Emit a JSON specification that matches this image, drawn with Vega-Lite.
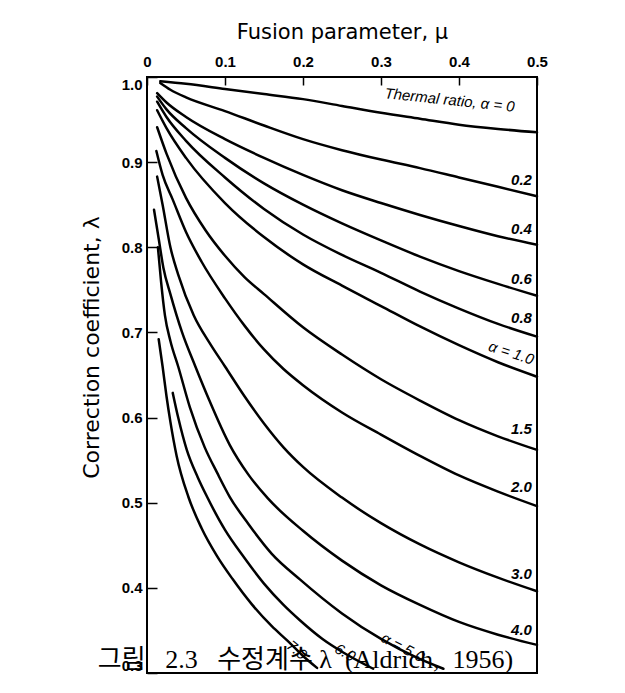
{
  "$schema": "https://vega.github.io/schema/vega-lite/v6.json",
  "width": 390,
  "height": 596,
  "autosize": {"type": "none"},
  "padding": {"left": 147, "top": 77, "right": 88, "bottom": 20},
  "background": "white",
  "config": {
    "view": {"stroke": "black", "strokeWidth": 2},
    "font": "Liberation Sans"
  },
  "datasets": {
    "curves": [
      {"a": "0", "m": 0.017, "l": 0.995}, {"a": "0", "m": 0.05, "l": 0.992}, {"a": "0", "m": 0.1, "l": 0.986}, {"a": "0", "m": 0.15, "l": 0.98}, {"a": "0", "m": 0.2, "l": 0.974}, {"a": "0", "m": 0.25, "l": 0.966}, {"a": "0", "m": 0.3, "l": 0.958}, {"a": "0", "m": 0.35, "l": 0.951}, {"a": "0", "m": 0.4, "l": 0.944}, {"a": "0", "m": 0.45, "l": 0.939}, {"a": "0", "m": 0.5, "l": 0.935},
      {"a": "0.2", "m": 0.017, "l": 0.993}, {"a": "0.2", "m": 0.03, "l": 0.985}, {"a": "0.2", "m": 0.05, "l": 0.976}, {"a": "0.2", "m": 0.1, "l": 0.96}, {"a": "0.2", "m": 0.15, "l": 0.943}, {"a": "0.2", "m": 0.2, "l": 0.927}, {"a": "0.2", "m": 0.25, "l": 0.914}, {"a": "0.2", "m": 0.3, "l": 0.903}, {"a": "0.2", "m": 0.35, "l": 0.893}, {"a": "0.2", "m": 0.4, "l": 0.882}, {"a": "0.2", "m": 0.45, "l": 0.871}, {"a": "0.2", "m": 0.5, "l": 0.86},
      {"a": "0.4", "m": 0.013, "l": 0.981}, {"a": "0.4", "m": 0.025, "l": 0.97}, {"a": "0.4", "m": 0.05, "l": 0.953}, {"a": "0.4", "m": 0.1, "l": 0.927}, {"a": "0.4", "m": 0.15, "l": 0.905}, {"a": "0.4", "m": 0.2, "l": 0.885}, {"a": "0.4", "m": 0.25, "l": 0.867}, {"a": "0.4", "m": 0.3, "l": 0.852}, {"a": "0.4", "m": 0.35, "l": 0.838}, {"a": "0.4", "m": 0.4, "l": 0.825}, {"a": "0.4", "m": 0.45, "l": 0.813}, {"a": "0.4", "m": 0.5, "l": 0.803},
      {"a": "0.6", "m": 0.013, "l": 0.977}, {"a": "0.6", "m": 0.025, "l": 0.962}, {"a": "0.6", "m": 0.05, "l": 0.94}, {"a": "0.6", "m": 0.1, "l": 0.905}, {"a": "0.6", "m": 0.15, "l": 0.875}, {"a": "0.6", "m": 0.2, "l": 0.85}, {"a": "0.6", "m": 0.25, "l": 0.828}, {"a": "0.6", "m": 0.3, "l": 0.808}, {"a": "0.6", "m": 0.35, "l": 0.789}, {"a": "0.6", "m": 0.4, "l": 0.772}, {"a": "0.6", "m": 0.45, "l": 0.757}, {"a": "0.6", "m": 0.5, "l": 0.743},
      {"a": "0.8", "m": 0.013, "l": 0.971}, {"a": "0.8", "m": 0.025, "l": 0.953}, {"a": "0.8", "m": 0.05, "l": 0.925}, {"a": "0.8", "m": 0.1, "l": 0.882}, {"a": "0.8", "m": 0.15, "l": 0.845}, {"a": "0.8", "m": 0.2, "l": 0.815}, {"a": "0.8", "m": 0.25, "l": 0.791}, {"a": "0.8", "m": 0.3, "l": 0.77}, {"a": "0.8", "m": 0.35, "l": 0.748}, {"a": "0.8", "m": 0.4, "l": 0.728}, {"a": "0.8", "m": 0.45, "l": 0.71}, {"a": "0.8", "m": 0.5, "l": 0.695},
      {"a": "1.0", "m": 0.013, "l": 0.961}, {"a": "1.0", "m": 0.025, "l": 0.94}, {"a": "1.0", "m": 0.05, "l": 0.905}, {"a": "1.0", "m": 0.1, "l": 0.852}, {"a": "1.0", "m": 0.15, "l": 0.812}, {"a": "1.0", "m": 0.2, "l": 0.78}, {"a": "1.0", "m": 0.25, "l": 0.755}, {"a": "1.0", "m": 0.3, "l": 0.731}, {"a": "1.0", "m": 0.35, "l": 0.707}, {"a": "1.0", "m": 0.4, "l": 0.685}, {"a": "1.0", "m": 0.45, "l": 0.665}, {"a": "1.0", "m": 0.5, "l": 0.648},
      {"a": "1.5", "m": 0.013, "l": 0.941}, {"a": "1.5", "m": 0.025, "l": 0.91}, {"a": "1.5", "m": 0.05, "l": 0.858}, {"a": "1.5", "m": 0.075, "l": 0.82}, {"a": "1.5", "m": 0.1, "l": 0.79}, {"a": "1.5", "m": 0.125, "l": 0.765}, {"a": "1.5", "m": 0.15, "l": 0.745}, {"a": "1.5", "m": 0.2, "l": 0.706}, {"a": "1.5", "m": 0.25, "l": 0.674}, {"a": "1.5", "m": 0.3, "l": 0.645}, {"a": "1.5", "m": 0.35, "l": 0.62}, {"a": "1.5", "m": 0.4, "l": 0.597}, {"a": "1.5", "m": 0.45, "l": 0.578}, {"a": "1.5", "m": 0.5, "l": 0.562},
      {"a": "2.0", "m": 0.012, "l": 0.913}, {"a": "2.0", "m": 0.02, "l": 0.885}, {"a": "2.0", "m": 0.033, "l": 0.856}, {"a": "2.0", "m": 0.05, "l": 0.818}, {"a": "2.0", "m": 0.07, "l": 0.783}, {"a": "2.0", "m": 0.1, "l": 0.74}, {"a": "2.0", "m": 0.125, "l": 0.708}, {"a": "2.0", "m": 0.15, "l": 0.68}, {"a": "2.0", "m": 0.175, "l": 0.657}, {"a": "2.0", "m": 0.2, "l": 0.638}, {"a": "2.0", "m": 0.25, "l": 0.606}, {"a": "2.0", "m": 0.3, "l": 0.58}, {"a": "2.0", "m": 0.35, "l": 0.555}, {"a": "2.0", "m": 0.4, "l": 0.532}, {"a": "2.0", "m": 0.45, "l": 0.513}, {"a": "2.0", "m": 0.5, "l": 0.496},
      {"a": "3.0", "m": 0.013, "l": 0.883}, {"a": "3.0", "m": 0.02, "l": 0.85}, {"a": "3.0", "m": 0.03, "l": 0.8}, {"a": "3.0", "m": 0.04, "l": 0.768}, {"a": "3.0", "m": 0.06, "l": 0.72}, {"a": "3.0", "m": 0.08, "l": 0.688}, {"a": "3.0", "m": 0.1, "l": 0.66}, {"a": "3.0", "m": 0.125, "l": 0.625}, {"a": "3.0", "m": 0.15, "l": 0.593}, {"a": "3.0", "m": 0.175, "l": 0.565}, {"a": "3.0", "m": 0.2, "l": 0.542}, {"a": "3.0", "m": 0.25, "l": 0.506}, {"a": "3.0", "m": 0.3, "l": 0.476}, {"a": "3.0", "m": 0.35, "l": 0.451}, {"a": "3.0", "m": 0.4, "l": 0.43}, {"a": "3.0", "m": 0.45, "l": 0.412}, {"a": "3.0", "m": 0.5, "l": 0.396},
      {"a": "4.0", "m": 0.009, "l": 0.844}, {"a": "4.0", "m": 0.015, "l": 0.81}, {"a": "4.0", "m": 0.021, "l": 0.776}, {"a": "4.0", "m": 0.03, "l": 0.745}, {"a": "4.0", "m": 0.045, "l": 0.7}, {"a": "4.0", "m": 0.062, "l": 0.66}, {"a": "4.0", "m": 0.08, "l": 0.62}, {"a": "4.0", "m": 0.106, "l": 0.568}, {"a": "4.0", "m": 0.13, "l": 0.533}, {"a": "4.0", "m": 0.155, "l": 0.505}, {"a": "4.0", "m": 0.2, "l": 0.467}, {"a": "4.0", "m": 0.25, "l": 0.432}, {"a": "4.0", "m": 0.3, "l": 0.403}, {"a": "4.0", "m": 0.35, "l": 0.38}, {"a": "4.0", "m": 0.4, "l": 0.36}, {"a": "4.0", "m": 0.45, "l": 0.345}, {"a": "4.0", "m": 0.5, "l": 0.333},
      {"a": "5.0", "m": 0.014, "l": 0.8}, {"a": "5.0", "m": 0.018, "l": 0.76}, {"a": "5.0", "m": 0.023, "l": 0.72}, {"a": "5.0", "m": 0.03, "l": 0.69}, {"a": "5.0", "m": 0.04, "l": 0.66}, {"a": "5.0", "m": 0.055, "l": 0.612}, {"a": "5.0", "m": 0.074, "l": 0.565}, {"a": "5.0", "m": 0.09, "l": 0.535}, {"a": "5.0", "m": 0.106, "l": 0.507}, {"a": "5.0", "m": 0.13, "l": 0.475}, {"a": "5.0", "m": 0.16, "l": 0.44}, {"a": "5.0", "m": 0.196, "l": 0.41}, {"a": "5.0", "m": 0.25, "l": 0.37}, {"a": "5.0", "m": 0.3, "l": 0.34}, {"a": "5.0", "m": 0.346, "l": 0.318}, {"a": "5.0", "m": 0.38, "l": 0.305},
      {"a": "6.0", "m": 0.033, "l": 0.629}, {"a": "6.0", "m": 0.04, "l": 0.6}, {"a": "6.0", "m": 0.051, "l": 0.562}, {"a": "6.0", "m": 0.065, "l": 0.53}, {"a": "6.0", "m": 0.077, "l": 0.507}, {"a": "6.0", "m": 0.1, "l": 0.468}, {"a": "6.0", "m": 0.125, "l": 0.435}, {"a": "6.0", "m": 0.15, "l": 0.405}, {"a": "6.0", "m": 0.175, "l": 0.38}, {"a": "6.0", "m": 0.196, "l": 0.362}, {"a": "6.0", "m": 0.225, "l": 0.34}, {"a": "6.0", "m": 0.25, "l": 0.325}, {"a": "6.0", "m": 0.29, "l": 0.305},
      {"a": "7.0", "m": 0.015, "l": 0.692}, {"a": "7.0", "m": 0.02, "l": 0.66}, {"a": "7.0", "m": 0.025, "l": 0.625}, {"a": "7.0", "m": 0.03, "l": 0.595}, {"a": "7.0", "m": 0.038, "l": 0.555}, {"a": "7.0", "m": 0.053, "l": 0.507}, {"a": "7.0", "m": 0.07, "l": 0.47}, {"a": "7.0", "m": 0.09, "l": 0.437}, {"a": "7.0", "m": 0.11, "l": 0.41}, {"a": "7.0", "m": 0.135, "l": 0.38}, {"a": "7.0", "m": 0.16, "l": 0.355}, {"a": "7.0", "m": 0.18, "l": 0.338}, {"a": "7.0", "m": 0.2, "l": 0.32}, {"a": "7.0", "m": 0.218, "l": 0.306}
    ],
    "endLabels": [
      {"t": "0.2", "m": 0.4935, "l": 0.879},
      {"t": "0.4", "m": 0.4935, "l": 0.822},
      {"t": "0.6", "m": 0.4935, "l": 0.763},
      {"t": "0.8", "m": 0.4935, "l": 0.717},
      {"t": "1.5", "m": 0.4935, "l": 0.586},
      {"t": "2.0", "m": 0.4935, "l": 0.519},
      {"t": "3.0", "m": 0.4935, "l": 0.416},
      {"t": "4.0", "m": 0.4935, "l": 0.351}
    ],
    "slantLabels": [
      {"t": "Thermal ratio, α = 0", "m": 0.388, "l": 0.973, "r": 6},
      {"t": "α = 1.0", "m": 0.467, "l": 0.676, "r": 18},
      {"t": "α = 5.0", "m": 0.328, "l": 0.33, "r": 28},
      {"t": "6.0", "m": 0.254, "l": 0.324, "r": 30},
      {"t": "7.0", "m": 0.192, "l": 0.327, "r": 40}
    ],
    "caption": [
      {"t": "그림\u00a0\u00a0\u00a02.3\u00a0\u00a0\u00a0수정계수\u00a0λ\u00a0\u00a0(Aldrich,\u00a0\u00a01956)", "m": 0.2032, "l": 0.3063}
    ]
  },
  "encoding": {
    "x": {
      "field": "m", "type": "quantitative",
      "scale": {"domain": [0, 0.5], "nice": false, "zero": false},
      "axis": {
        "orient": "top",
        "values": [0, 0.1, 0.2, 0.3, 0.4, 0.5],
        "labelExpr": "datum.value == 0 ? '0' : format(datum.value, '.1f')",
        "title": "Fusion parameter, μ",
        "titleFont": "DejaVu Sans", "titleFontSize": 21, "titleFontWeight": "normal", "titleColor": "black",
        "titlePadding": 12,
        "labelFont": "Liberation Sans", "labelFontSize": 15, "labelFontWeight": "bold", "labelColor": "black",
        "labelFlush": false,
        "tickColor": "black", "tickSize": -8, "tickWidth": 1.5, "labelPadding": 16,
        "domain": false, "grid": false
      }
    },
    "y": {
      "field": "l", "type": "quantitative",
      "scale": {"domain": [0.3, 1.0], "nice": false, "zero": false},
      "axis": {
        "values": [0.3, 0.4, 0.5, 0.6, 0.7, 0.8, 0.9, 1.0],
        "format": ".1f",
        "title": "Correction coefficient, λ",
        "titleFont": "DejaVu Sans", "titleFontSize": 22, "titleFontWeight": "normal", "titleColor": "black",
        "titlePadding": 18, "titleY": 270,
        "labelFont": "Liberation Sans", "labelFontSize": 15, "labelFontWeight": "bold", "labelColor": "black",
        "labelFlush": true,
        "tickColor": "black", "tickSize": -10, "tickWidth": 1.5, "labelPadding": 15,
        "domain": false, "grid": false
      }
    }
  },
  "layer": [
    {
      "data": {"name": "curves"},
      "mark": {"type": "line", "interpolate": "monotone", "color": "black", "strokeWidth": 2.5, "strokeCap": "round"},
      "encoding": {"detail": {"field": "a", "type": "nominal"}}
    },
    {
      "data": {"name": "endLabels"},
      "mark": {"type": "text", "align": "right", "baseline": "middle", "fontSize": 15, "fontStyle": "italic", "fontWeight": "bold", "font": "Liberation Sans", "color": "black"},
      "encoding": {"text": {"field": "t"}}
    },
    {
      "data": {"name": "slantLabels"},
      "mark": {"type": "text", "align": "center", "baseline": "middle", "fontSize": 15, "fontStyle": "italic", "font": "Liberation Sans", "color": "black"},
      "encoding": {"text": {"field": "t"}, "angle": {"field": "r", "type": "quantitative", "scale": null}}
    },
    {
      "data": {"name": "caption"},
      "mark": {"type": "text", "align": "center", "baseline": "alphabetic", "fontSize": 26, "font": "Liberation Serif, Noto Sans CJK KR", "color": "black"},
      "encoding": {"text": {"field": "t"}}
    }
  ]
}
